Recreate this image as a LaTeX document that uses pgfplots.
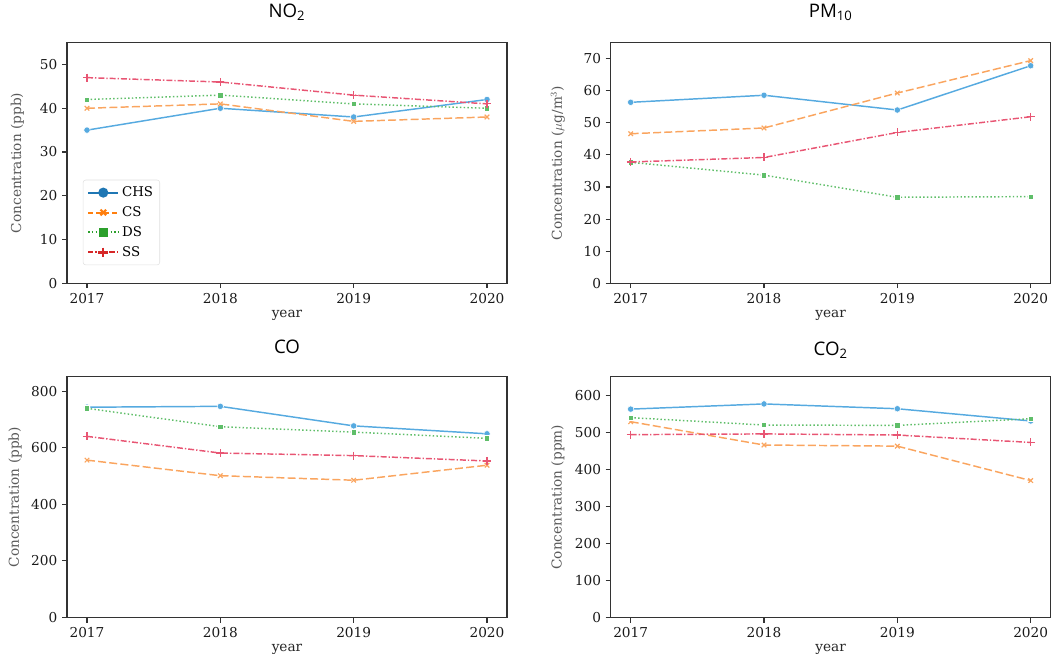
\documentclass[border=0pt]{standalone}
\usepackage{pgfplots}
\pgfplotsset{compat=1.18}
\usepackage{fontspec}
\setmainfont{DejaVu Serif}
\newfontfamily\titlefont{Open Sans}

\definecolor{CHSl}{RGB}{86,170,224}
\definecolor{CSl}{RGB}{250,165,95}
\definecolor{DSl}{RGB}{95,190,105}
\definecolor{SSl}{RGB}{232,85,115}
\definecolor{CHSd}{RGB}{31,119,180}
\definecolor{CSd}{RGB}{255,127,14}
\definecolor{DSd}{RGB}{44,160,44}
\definecolor{SSd}{RGB}{214,39,40}

\pgfplotsset{
  myaxis/.style={
    scale only axis, width=330pt, height=180.45pt,
    anchor=south west,
    xmin=2016.85, xmax=2020.15,
    xtick={2017,2018,2019,2020},
    ymin=0,
    /pgf/number format/1000 sep={},
    /pgf/number format/assume math mode=true,
    axis line style={black!80, line width=0.8pt},
    tick style={black!80, line width=0.8pt},
    tick align=outside, major tick length=3.75pt,
    tick pos=left,
    tick label style={font=\fontsize{10.25}{12}\selectfont, text=black!90},
    xlabel=year,
    xlabel style={at={(axis description cs:0.5,-0.133)}, anchor=center, font=\fontsize{10.25}{12}\selectfont, text=black!85},
    ylabel style={anchor=center, font=\fontsize{10.25}{12}\selectfont, text=black!65},
    title style={at={(axis description cs:0.5,1)}, anchor=base, font=\fontsize{14}{16}\selectfont\titlefont},
    clip=false,
  },
  chs/.style={CHSl, solid, line width=1.1pt, mark=*, mark size=2.4pt, mark options={solid, fill=CHSl, draw=white, line width=0.4pt}},
  cs/.style={CSl, line width=1.1pt, dash pattern=on 6pt off 2.4pt, mark=x, mark size=2.4pt, mark options={solid, line width=0.9pt}},
  ds/.style={DSl, line width=1.1pt, dash pattern=on 1.1pt off 1.7pt, mark=square*, mark size=2pt, mark options={solid, fill=DSl, draw=white, line width=0.4pt}},
  ss/.style={SSl, line width=1.1pt, dash pattern=on 4.5pt off 1.5pt on 1pt off 1.5pt, mark=+, mark size=3pt, mark options={solid, line width=0.9pt}},
}

\begin{document}
\begin{tikzpicture}
\path (0,0) rectangle (796.5pt,494.25pt);

% NO2
\begin{axis}[myaxis, at={(50.25pt,282pt)},
  ymax=55, ytick={0,10,20,30,40,50},
  title={NO\textsubscript{2}}, title style={yshift=12.5pt},
  ylabel={Concentration (ppb)},
  ylabel style={at={(axis description cs:-0.113,0.5)}},
  legend style={at={(axis description cs:0.036,0.075)}, anchor=south west,
    draw=black!12, rounded corners=2pt, font=\fontsize{10}{12}\selectfont,
    row sep=2pt, inner xsep=3pt, inner ysep=3pt, cells={anchor=west}},
  legend image code/.code={\draw[mark repeat=2,mark phase=2,#1] plot coordinates {(0cm,0cm) (0.4cm,0cm) (0.8cm,0cm)};},
]
\addlegendimage{CHSd, solid, line width=1.5pt, mark=*, mark size=3pt, mark options={solid}}
\addlegendimage{CSd, line width=1.5pt, dash pattern=on 4pt off 2pt, mark=x, mark size=3pt, mark options={solid, line width=1.6pt}}
\addlegendimage{DSd, line width=1.5pt, dash pattern=on 1.2pt off 1.6pt, mark=square*, mark size=2.8pt, mark options={solid}}
\addlegendimage{SSd, line width=1.5pt, dash pattern=on 4pt off 1.5pt on 1pt off 1.5pt, mark=+, mark size=3.6pt, mark options={solid, line width=1.8pt}}
\legend{CHS,CS,DS,SS}
\addplot[chs, forget plot] coordinates {(2017,35) (2018,40) (2019,38) (2020,42)};
\addplot[cs, forget plot] coordinates {(2017,40) (2018,41) (2019,37) (2020,38)};
\addplot[ds, forget plot] coordinates {(2017,42) (2018,43) (2019,41) (2020,40)};
\addplot[ss, forget plot] coordinates {(2017,47) (2018,46) (2019,43) (2020,41)};
\end{axis}

% PM10
\begin{axis}[myaxis, at={(458pt,282pt)},
  ymax=75, ytick={0,10,20,30,40,50,60,70},
  title={PM\textsubscript{10}}, title style={yshift=12.5pt},
  ylabel={Concentration ($\mu$g/m$^3$)},
  ylabel style={at={(axis description cs:-0.12,0.5)}},
]
\addplot[chs] coordinates {(2017,56.4) (2018,58.6) (2019,54.0) (2020,67.8)};
\addplot[cs] coordinates {(2017,46.6) (2018,48.4) (2019,59.3) (2020,69.4)};
\addplot[ds] coordinates {(2017,37.7) (2018,33.7) (2019,26.8) (2020,27.0)};
\addplot[ss] coordinates {(2017,37.8) (2018,39.2) (2019,47.0) (2020,51.9)};
\end{axis}

% CO
\begin{axis}[myaxis, at={(50.25pt,31.3pt)},
  ymax=850, ytick={0,200,400,600,800},
  title={CO}, title style={yshift=11.25pt},
  ylabel={Concentration (ppb)},
  ylabel style={at={(axis description cs:-0.118,0.5)}},
]
\addplot[chs] coordinates {(2017,743) (2018,746) (2019,677) (2020,649)};
\addplot[cs] coordinates {(2017,556) (2018,501) (2019,485) (2020,538)};
\addplot[ds] coordinates {(2017,739) (2018,674) (2019,655) (2020,633)};
\addplot[ss] coordinates {(2017,640) (2018,581) (2019,572) (2020,553)};
\end{axis}

% CO2
\begin{axis}[myaxis, at={(458pt,31.3pt)},
  ymax=650, ytick={0,100,200,300,400,500,600},
  title={CO\textsubscript{2}}, title style={yshift=10pt},
  ylabel={Concentration (ppm)},
  ylabel style={at={(axis description cs:-0.12,0.5)}},
]
\addplot[chs] coordinates {(2017,563) (2018,577) (2019,564) (2020,531)};
\addplot[cs] coordinates {(2017,529) (2018,466) (2019,463) (2020,370)};
\addplot[ds] coordinates {(2017,540) (2018,520) (2019,519) (2020,537)};
\addplot[ss] coordinates {(2017,494) (2018,496) (2019,493) (2020,473)};
\end{axis}
\end{tikzpicture}
\end{document}
